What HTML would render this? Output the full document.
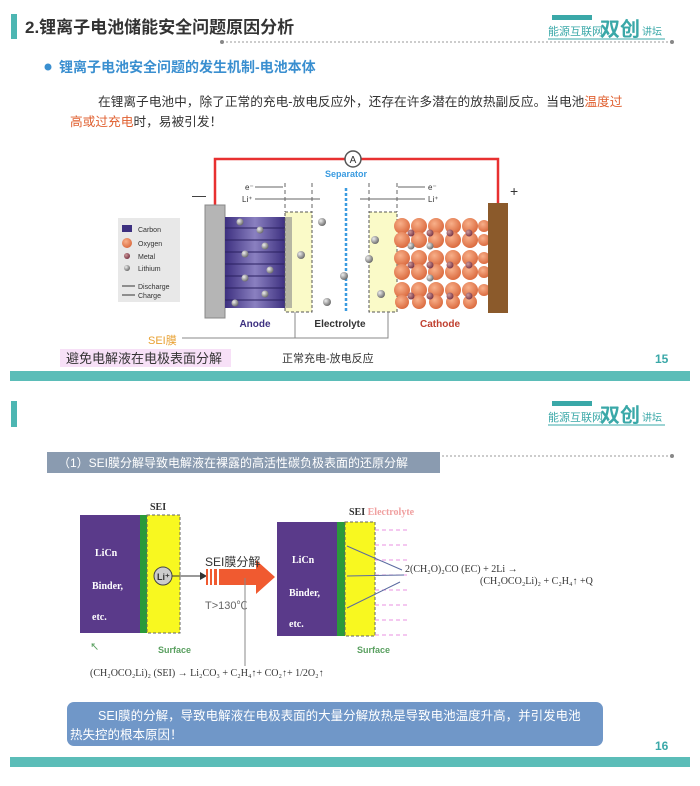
<!DOCTYPE html>
<html><head><meta charset="utf-8"><style>
html,body{margin:0;padding:0;background:#fff}
body{width:700px;height:781px;overflow:hidden;font-family:"Liberation Sans","Noto Sans CJK SC",sans-serif}
</style></head><body>
<svg width="700" height="781" viewBox="0 0 700 781" xmlns="http://www.w3.org/2000/svg" font-family="Liberation Sans, Noto Sans CJK SC, sans-serif">
<defs>
<radialGradient id="ox" cx="0.4" cy="0.35" r="0.7"><stop offset="0" stop-color="#f8b08a"/><stop offset="1" stop-color="#d9663a"/></radialGradient>
<radialGradient id="li" cx="0.35" cy="0.35" r="0.7"><stop offset="0" stop-color="#eee"/><stop offset="1" stop-color="#666"/></radialGradient>
<radialGradient id="me" cx="0.35" cy="0.35" r="0.7"><stop offset="0" stop-color="#c99"/><stop offset="1" stop-color="#734"/></radialGradient>
<linearGradient id="an" x1="0" x2="1"><stop offset="0" stop-color="#3d3080"/><stop offset="0.5" stop-color="#8a80c0"/><stop offset="1" stop-color="#3d3080"/></linearGradient>
</defs>

<!-- Slide 1 header -->
<rect x="11" y="14" width="6" height="25" fill="#4db6b2"/>
<text x="25" y="33" font-size="17" font-weight="bold" fill="#333">2.锂离子电池储能安全问题原因分析</text>
<line x1="222" y1="42" x2="672" y2="42" stroke="#999" stroke-dasharray="2,2"/>
<circle cx="222" cy="42" r="2" fill="#888"/><circle cx="672" cy="42" r="2" fill="#888"/>
<g fill="#3aa8a8">
<rect x="552" y="15" width="40" height="5"/>
<text x="548" y="35" font-size="11">能源互联网</text>
<text x="600" y="36" font-size="20" font-weight="bold">双创</text>
<text x="642" y="35" font-size="10">讲坛</text>
<line x1="548" y1="39" x2="665" y2="39" stroke="#3aa8a8"/>
</g>
<circle cx="48" cy="67" r="3.5" fill="#3a8fd0"/>
<text x="59" y="72" font-size="14" font-weight="bold" fill="#3a8fd0">锂离子电池安全问题的发生机制-电池本体</text>
<text x="98" y="106" font-size="12.7" fill="#333">在锂离子电池中，除了正常的充电-放电反应外，还存在许多潜在的放热副反应。当电池<tspan fill="#e06030">温度过</tspan></text>
<text x="70" y="126" font-size="12.7" fill="#333"><tspan fill="#e06030">高或过充电</tspan>时，易被引发！</text>

<!-- battery diagram -->
<polyline points="215,205 215,159 498,159 498,203" fill="none" stroke="#e83030" stroke-width="2.5"/>
<circle cx="353" cy="159" r="8" fill="#fff" stroke="#555" stroke-width="1.5"/>
<text x="353" y="163" font-size="10" text-anchor="middle" fill="#333">A</text>
<text x="346" y="177" font-size="9" font-weight="bold" text-anchor="middle" fill="#3a9be0">Separator</text>
<text x="192" y="200" font-size="14" fill="#333">—</text>
<text x="510" y="196" font-size="14" fill="#333">+</text>
<g font-size="8" fill="#333">
<text x="245" y="190">e⁻</text><text x="242" y="202">Li⁺</text>
<text x="428" y="190">e⁻</text><text x="428" y="202">Li⁺</text>
</g>
<g stroke="#666" stroke-width="1" fill="none">
<line x1="255" y1="187" x2="283" y2="187"/><line x1="255" y1="199" x2="320" y2="199"/>
<line x1="398" y1="187" x2="425" y2="187"/><line x1="360" y1="199" x2="425" y2="199"/>
<line x1="285" y1="183" x2="285" y2="212" stroke-dasharray="4,3"/>
<line x1="312" y1="183" x2="312" y2="212" stroke-dasharray="4,3"/>
<line x1="369" y1="183" x2="369" y2="212" stroke-dasharray="4,3"/>
<line x1="397" y1="183" x2="397" y2="212" stroke-dasharray="4,3"/>
</g>
<rect x="205" y="205" width="20" height="113" fill="#b5b5b5" stroke="#888"/>
<rect x="225" y="217" width="60" height="91" fill="url(#an)"/>
<g stroke="#2a2060" stroke-width="1">
<line x1="225" y1="228" x2="285" y2="228"/><line x1="225" y1="240" x2="285" y2="240"/><line x1="225" y1="252" x2="285" y2="252"/><line x1="225" y1="264" x2="285" y2="264"/><line x1="225" y1="276" x2="285" y2="276"/><line x1="225" y1="288" x2="285" y2="288"/><line x1="225" y1="300" x2="285" y2="300"/>
</g>
<rect x="285" y="212" width="27" height="100" fill="#fafac8" stroke="#555" stroke-dasharray="3,2"/>
<rect x="285" y="217" width="7" height="91" fill="#888" opacity="0.6"/>
<line x1="346" y1="188" x2="346" y2="312" stroke="#3a9be0" stroke-width="2.5" stroke-dasharray="3,2"/>
<rect x="369" y="212" width="28" height="100" fill="#fafac8" stroke="#555" stroke-dasharray="3,2"/>
<g fill="url(#ox)">
<circle cx="402" cy="226" r="8"/><circle cx="419" cy="226" r="8"/><circle cx="436" cy="226" r="8"/><circle cx="453" cy="226" r="8"/><circle cx="470" cy="226" r="8"/><circle cx="484" cy="226" r="6"/>
<circle cx="402" cy="240" r="8"/><circle cx="419" cy="240" r="8"/><circle cx="436" cy="240" r="8"/><circle cx="453" cy="240" r="8"/><circle cx="470" cy="240" r="8"/><circle cx="484" cy="240" r="6"/>
<circle cx="402" cy="258" r="8"/><circle cx="419" cy="258" r="8"/><circle cx="436" cy="258" r="8"/><circle cx="453" cy="258" r="8"/><circle cx="470" cy="258" r="8"/><circle cx="484" cy="258" r="6"/>
<circle cx="402" cy="272" r="8"/><circle cx="419" cy="272" r="8"/><circle cx="436" cy="272" r="8"/><circle cx="453" cy="272" r="8"/><circle cx="470" cy="272" r="8"/><circle cx="484" cy="272" r="6"/>
<circle cx="402" cy="290" r="8"/><circle cx="419" cy="290" r="8"/><circle cx="436" cy="290" r="8"/><circle cx="453" cy="290" r="8"/><circle cx="470" cy="290" r="8"/><circle cx="484" cy="290" r="6"/>
<circle cx="402" cy="302" r="7"/><circle cx="419" cy="302" r="7"/><circle cx="436" cy="302" r="7"/><circle cx="453" cy="302" r="7"/><circle cx="470" cy="302" r="7"/>
</g>
<g fill="url(#me)"><circle cx="411" cy="233" r="3.5"/><circle cx="430" cy="233" r="3.5"/><circle cx="450" cy="233" r="3.5"/><circle cx="469" cy="233" r="3.5"/><circle cx="411" cy="265" r="3.5"/><circle cx="430" cy="265" r="3.5"/><circle cx="450" cy="265" r="3.5"/><circle cx="469" cy="265" r="3.5"/><circle cx="411" cy="296" r="3.5"/><circle cx="430" cy="296" r="3.5"/><circle cx="450" cy="296" r="3.5"/><circle cx="469" cy="296" r="3.5"/></g>
<g fill="url(#li)"><circle cx="240" cy="222" r="3.5"/><circle cx="260" cy="230" r="3.5"/><circle cx="265" cy="246" r="3.5"/><circle cx="245" cy="254" r="3.5"/><circle cx="270" cy="270" r="3.5"/><circle cx="245" cy="278" r="3.5"/><circle cx="265" cy="294" r="3.5"/><circle cx="235" cy="303" r="3.5"/>
<circle cx="322" cy="222" r="4"/><circle cx="301" cy="255" r="4"/><circle cx="344" cy="276" r="4"/><circle cx="327" cy="302" r="4"/><circle cx="375" cy="240" r="4"/><circle cx="369" cy="259" r="4"/><circle cx="381" cy="294" r="4"/><circle cx="411" cy="246" r="3.5"/><circle cx="430" cy="246" r="3.5"/><circle cx="430" cy="278" r="3.5"/></g>
<rect x="488" y="203" width="20" height="110" fill="#8b5a2b"/>
<g font-size="10" font-weight="bold">
<text x="255" y="327" text-anchor="middle" fill="#3d3080">Anode</text>
<text x="340" y="327" text-anchor="middle" fill="#333">Electrolyte</text>
<text x="440" y="327" text-anchor="middle" fill="#c04030">Cathode</text>
</g>
<rect x="118" y="218" width="62" height="84" fill="#e8e8e8"/>
<g font-size="7" fill="#333">
<rect x="122" y="225" width="10" height="7" fill="#3d3080"/><text x="138" y="232">Carbon</text>
<circle cx="127" cy="243" r="5" fill="url(#ox)"/><text x="138" y="246">Oxygen</text>
<circle cx="127" cy="256" r="3" fill="url(#me)"/><text x="138" y="259">Metal</text>
<circle cx="127" cy="268" r="3" fill="url(#li)"/><text x="138" y="271">Lithium</text>
<text x="138" y="289">Discharge</text><text x="138" y="298">Charge</text>
<line x1="122" y1="286" x2="135" y2="286" stroke="#333"/><line x1="122" y1="295" x2="135" y2="295" stroke="#333"/>
</g>
<text x="148" y="344" font-size="11" fill="#e8a030">SEI膜</text>
<polyline points="182,338 295,338 295,312" fill="none" stroke="#888"/>
<polyline points="295,338 388,338 388,312" fill="none" stroke="#888"/>
<rect x="60" y="349" width="171" height="18" fill="#f7e0f7"/>
<text x="66" y="363" font-size="13" fill="#333">避免电解液在电极表面分解</text>
<text x="282" y="362" font-size="11" fill="#333">正常充电-放电反应</text>
<text x="655" y="363" font-size="12" font-weight="bold" fill="#3aa8a8">15</text>
<rect x="10" y="371" width="680" height="10" fill="#5bbdb8"/>

<!-- Slide 2 -->
<rect x="11" y="401" width="6" height="26" fill="#4db6b2"/>
<line x1="222" y1="456" x2="672" y2="456" stroke="#999" stroke-dasharray="2,2"/>
<circle cx="222" cy="456" r="2" fill="#888"/><circle cx="672" cy="456" r="2" fill="#888"/>
<g fill="#3aa8a8">
<rect x="552" y="401" width="40" height="5"/>
<text x="548" y="421" font-size="11">能源互联网</text>
<text x="600" y="422" font-size="20" font-weight="bold">双创</text>
<text x="642" y="421" font-size="10">讲坛</text>
<line x1="548" y1="425" x2="665" y2="425" stroke="#3aa8a8"/>
</g>
<rect x="47" y="452" width="393" height="21" fill="#8a9bb0"/>
<text x="58" y="467" font-size="12" fill="#fff">（1）SEI膜分解导致电解液在裸露的高活性碳负极表面的还原分解</text>

<rect x="80" y="515" width="60" height="118" fill="#5a3a8a"/>
<rect x="140" y="515" width="7" height="118" fill="#2a9a3a"/>
<rect x="147" y="515" width="33" height="118" fill="#f8f820" stroke="#666" stroke-dasharray="3,2"/>
<text x="150" y="510" font-size="10" font-weight="bold" font-family="Liberation Serif, serif" fill="#333">SEI</text>

<rect x="277" y="522" width="60" height="114" fill="#5a3a8a"/>
<rect x="337" y="522" width="8" height="114" fill="#2a9a3a"/>
<rect x="345" y="522" width="30" height="114" fill="#f8f820" stroke="#666" stroke-dasharray="3,2"/>

<g font-size="10" font-weight="bold" font-family="Liberation Serif, serif" fill="#fff">
<text x="95" y="556">LiCn</text><text x="92" y="589">Binder,</text><text x="92" y="620">etc.</text>
<text x="292" y="563">LiCn</text><text x="289" y="596">Binder,</text><text x="289" y="627">etc.</text>
</g>
<circle cx="163" cy="576" r="9" fill="#ccc" stroke="#444"/>
<text x="157" y="580" font-size="9" font-weight="bold" fill="#333">Li⁺</text>
<line x1="172" y1="576" x2="200" y2="576" stroke="#333"/><polygon points="200,572 207,576 200,580" fill="#333"/>
<rect x="206" y="569" width="2" height="16" fill="#f05a30"/><rect x="210" y="569" width="2" height="16" fill="#f05a30"/><rect x="214" y="569" width="3" height="16" fill="#f05a30"/>
<polygon points="219,569 256,569 256,560 275,577 256,594 256,585 219,585" fill="#f05a30"/>
<text x="205" y="566" font-size="12" fill="#333">SEI膜分解</text>
<text x="205" y="609" font-size="11" fill="#666">T&gt;130℃</text>
<line x1="245" y1="578" x2="245" y2="666" stroke="#888"/>
<text x="90" y="650" font-size="9" font-weight="bold" fill="#5aa060">↖</text>
<text x="158" y="653" font-size="9" font-weight="bold" fill="#5aa060">Surface</text>

<g stroke="#e890e0" stroke-dasharray="4,3"><line x1="375" y1="530" x2="410" y2="530"/><line x1="375" y1="545" x2="410" y2="545"/><line x1="375" y1="560" x2="410" y2="560"/><line x1="375" y1="575" x2="410" y2="575"/><line x1="375" y1="590" x2="410" y2="590"/><line x1="375" y1="605" x2="410" y2="605"/><line x1="375" y1="620" x2="410" y2="620"/><line x1="375" y1="635" x2="410" y2="635"/></g>
<g stroke="#5a6aa0"><line x1="347" y1="546" x2="402" y2="570"/><line x1="347" y1="576" x2="404" y2="575"/><line x1="347" y1="608" x2="400" y2="582"/></g>
<text x="349" y="515" font-size="10" font-weight="bold" font-family="Liberation Serif, serif" fill="#333">SEI <tspan fill="#f0a0a0">Electrolyte</tspan></text>
<text x="357" y="653" font-size="9" font-weight="bold" fill="#5aa060">Surface</text>
<g font-size="10" font-family="Liberation Serif, serif" fill="#333">
<text x="405" y="572">2(CH₂O)₂CO (EC) + 2Li  →</text>
<text x="480" y="584">(CH₂OCO₂Li)₂ + C₂H₄↑ +Q</text>
<text x="90" y="676">(CH₂OCO₂Li)₂ (SEI) → Li₂CO₃ + C₂H₄↑+ CO₂↑+ 1/2O₂↑</text>
</g>
<rect x="67" y="702" width="536" height="44" rx="7" fill="#7097c8"/>
<text x="98" y="720" font-size="12.5" fill="#fff">SEI膜的分解，导致电解液在电极表面的大量分解放热是导致电池温度升高，并引发电池</text>
<text x="70" y="739" font-size="12.5" fill="#fff">热失控的根本原因！</text>
<text x="655" y="750" font-size="12" font-weight="bold" fill="#3aa8a8">16</text>
<rect x="10" y="757" width="680" height="10" fill="#5bbdb8"/>
</svg>
</body></html>
